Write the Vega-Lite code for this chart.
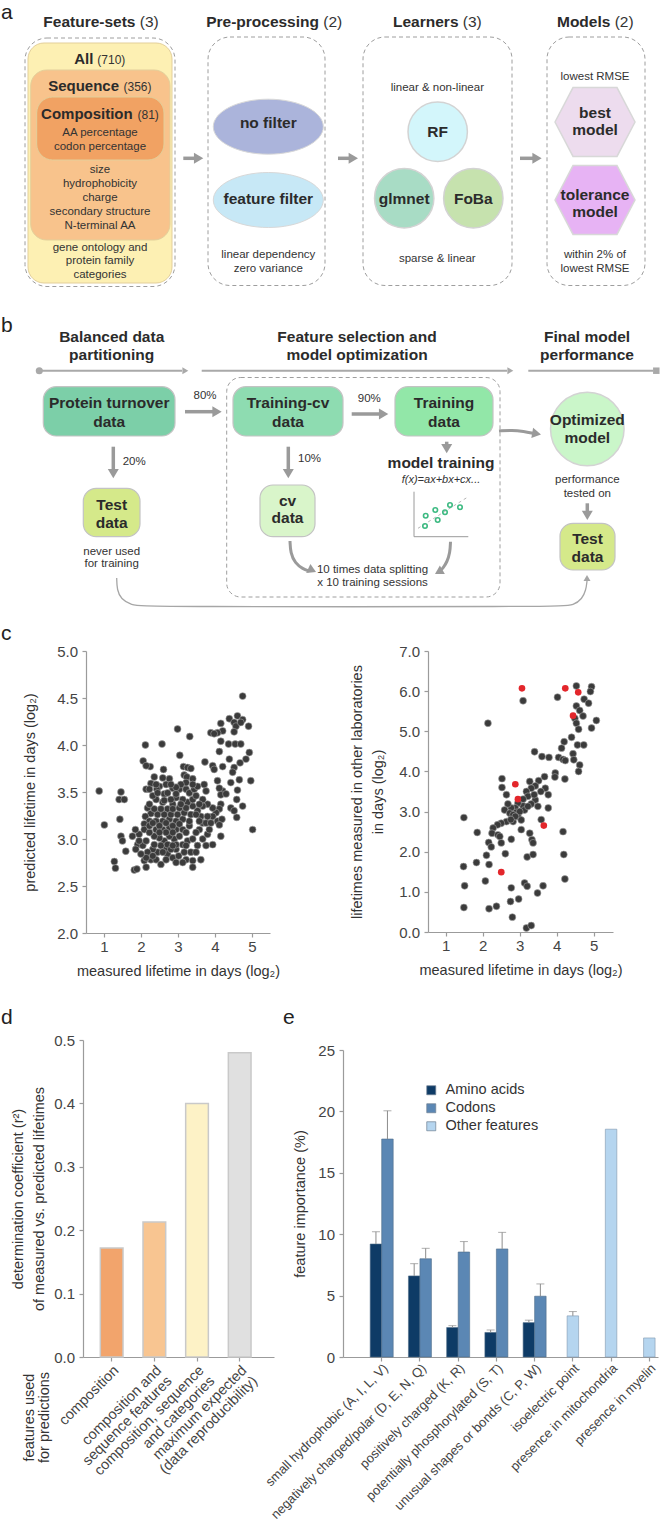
{
"$schema":"https://vega.github.io/schema/vega-lite/v6.json",
"padding":0,
"background":"#ffffff",
"spacing":0,
"resolve":{"scale":{"color":"independent","fill":"independent"},"legend":{"color":"independent"}},
"config":{
 "font":"Liberation Sans",
 "view":{"stroke":null},
 "axis":{"domainColor":"#9b9b9b","tickColor":"#9b9b9b","domainWidth":1.2,"tickWidth":1.2,"tickSize":4,"labelColor":"#444444","titleColor":"#333333","labelFont":"Liberation Sans","titleFont":"Liberation Sans","labelFontSize":15,"titleFontSize":14.5,"titleFontWeight":"normal","grid":false},
 "legend":{"labelFont":"Liberation Sans"},
 "title":{"font":"Liberation Sans"},
 "text":{"font":"Liberation Sans"}
},
"vconcat":[
{
 "width":660,"height":644,
 "encoding":{
  "x":{"field":"x","type":"quantitative","scale":{"domain":[0,660],"nice":false,"zero":false},"axis":null},
  "y":{"field":"y","type":"quantitative","scale":{"domain":[0,644],"reverse":true,"nice":false,"zero":false},"axis":null}
 },
 "resolve":{"scale":{"fill":"independent"}},
 "layer":[
  {"data":{"values":[{"x":25,"x2":175,"y":38,"y2":286.5},{"x":208,"x2":325,"y":37,"y2":285.5},{"x":363,"x2":512,"y":37,"y2":285.5},{"x":547,"x2":645,"y":37,"y2":285.5}]},
   "mark":{"type":"rect","fill":"#ffffff","fillOpacity":0,"stroke":"#9e9e9e","strokeWidth":1,"strokeDash":[4,3],"cornerRadius":22},
   "encoding":{"x2":{"field":"x2"},"y2":{"field":"y2"}}},
  {"data":{"values":[{"x":226.7,"x2":500,"y":377.5,"y2":597}]},
   "mark":{"type":"rect","fill":"#ffffff","fillOpacity":0,"stroke":"#9e9e9e","strokeWidth":1,"strokeDash":[4,3],"cornerRadius":14},
   "encoding":{"x2":{"field":"x2"},"y2":{"field":"y2"}}},
  {"data":{"values":[{"name":"all","x":28,"x2":172,"y":43,"y2":283},{"name":"sequence","x":30.7,"x2":170,"y":70,"y2":240},{"name":"composition","x":36.7,"x2":164,"y":97,"y2":160}]},
   "mark":{"type":"rect","cornerRadius":16,"stroke":"#e3cf9a","strokeWidth":1},
   "encoding":{"x2":{"field":"x2"},"y2":{"field":"y2"},"fill":{"field":"name","type":"nominal","scale":{"domain":["all","sequence","composition"],"range":["#fdf0b3","#f8c38c","#f1a263"]},"legend":null}}},
  {"data":{"values":[{"name":"turnover","x":43.3,"x2":175,"y":386.7,"y2":436},{"name":"training-cv","x":233,"x2":343,"y":386.7,"y2":436},{"name":"training","x":395,"x2":493,"y":386.7,"y2":436},{"name":"test-left","x":83.3,"x2":140,"y":488.3,"y2":536.7},{"name":"cv","x":260,"x2":315,"y":485,"y2":536.7},{"name":"test-right","x":560,"x2":615,"y":523.3,"y2":570}]},
   "mark":{"type":"rect","cornerRadius":13,"stroke":"#c3c3c3","strokeWidth":1.2},
   "encoding":{"x2":{"field":"x2"},"y2":{"field":"y2"},"fill":{"field":"name","type":"nominal","scale":{"domain":["turnover","training-cv","training","test-left","cv","test-right"],"range":["#7ccfa8","#8edcb1","#92e7a8","#d5e98a","#d9f5ca","#d5e98a"]},"legend":null}}},
  {"data":{"values":[{"name":"no filter","x":268.3,"y":126.7},{"name":"feature filter","x":268.3,"y":200}]},
   "mark":{"type":"point","shape":"M-1,0A1,0.5,0,1,0,1,0A1,0.5,0,1,0,-1,0Z","size":12100,"filled":true,"opacity":1,"stroke":"#d8d8d8","strokeWidth":1},
   "encoding":{"fill":{"field":"name","type":"nominal","scale":{"domain":["no filter","feature filter"],"range":["#abb4db","#c7e8f6"]},"legend":null}}},
  {"data":{"values":[{"name":"RF","x":437.7,"y":131.7},{"name":"glmnet","x":404.2,"y":198.3},{"name":"FoBa","x":473.3,"y":198.3}]},
   "mark":{"type":"point","shape":"circle","size":3526,"filled":true,"opacity":1,"stroke":"#d3d3d3","strokeWidth":1.5},
   "encoding":{"fill":{"field":"name","type":"nominal","scale":{"domain":["RF","glmnet","FoBa"],"range":["#d3f6fb","#a8dcc5","#c6e2ae"]},"legend":null}}},
  {"data":{"values":[{"name":"optimized model","x":587.3,"y":429}]},
   "mark":{"type":"point","shape":"circle","size":5411,"filled":true,"fill":"#caf6c9","opacity":1,"stroke":"#d3d3d3","strokeWidth":1.5}},
  {"data":{"values":[{"name":"best model","x":595,"y":122},{"name":"tolerance model","x":595,"y":200}]},
   "mark":{"type":"point","shape":"M-1,0L-0.55,-0.86L0.55,-0.86L1,0L0.55,0.86L-0.55,0.86Z","size":6400,"filled":true,"opacity":1,"stroke":"#d8d8d8","strokeWidth":1.5},
   "encoding":{"fill":{"field":"name","type":"nominal","scale":{"domain":["best model","tolerance model"],"range":["#eddcee","#e7b3f4"]},"legend":null}}},
  {"data":{"values":[{"x":39.3,"x2":182,"y":370.7,"y2":370.7},{"x":201.7,"x2":507,"y":370.7,"y2":370.7},{"x":528.3,"x2":653,"y":370.7,"y2":370.7}]},
   "mark":{"type":"rule","color":"#a9a9a9","strokeWidth":2},
   "encoding":{"x2":{"field":"x2"},"y2":{"field":"y2"}}},
  {"data":{"values":[{"x":39.3,"y":370.7}]},
   "mark":{"type":"point","shape":"circle","size":50,"filled":true,"fill":"#a9a9a9","opacity":1}},
  {"data":{"values":[{"x":656.3,"y":370.7}]},
   "mark":{"type":"point","shape":"square","size":42,"filled":true,"fill":"#a9a9a9","opacity":1}},
  {"data":{"values":[{"x":183.3,"x2":195.3,"y":158.3,"y2":158.3},{"x":338,"x2":350,"y":158.3,"y2":158.3},{"x":520,"x2":533.7,"y":158.3,"y2":158.3},{"x":185,"x2":213.7,"y":411.7,"y2":411.7},{"x":351.7,"x2":380.3,"y":414,"y2":414},{"x":113.3,"x2":113.3,"y":446.7,"y2":470.3},{"x":288.3,"x2":288.3,"y":446.7,"y2":470.3},{"x":446.7,"x2":446.7,"y":441.7,"y2":446},{"x":587.3,"x2":587.3,"y":503.3,"y2":512}]},
   "mark":{"type":"rule","color":"#9a9a9a","strokeWidth":3.5},
   "encoding":{"x2":{"field":"x2"},"y2":{"field":"y2"}}},
  {"data":{"values":[
    {"id":"training to model","i":0,"x":499,"y":431},{"id":"training to model","i":1,"x":512,"y":430},{"id":"training to model","i":2,"x":524,"y":431.5},{"id":"training to model","i":3,"x":533,"y":433.3},
    {"id":"cv loop","i":0,"x":290,"y":541},{"id":"cv loop","i":1,"x":290.5,"y":553},{"id":"cv loop","i":2,"x":295,"y":563},{"id":"cv loop","i":3,"x":303,"y":569},{"id":"cv loop","i":4,"x":309,"y":571},
    {"id":"fit loop","i":0,"x":450.5,"y":541.7},{"id":"fit loop","i":1,"x":450,"y":553},{"id":"fit loop","i":2,"x":447,"y":562},{"id":"fit loop","i":3,"x":443,"y":568},{"id":"fit loop","i":4,"x":441,"y":570}]},
   "mark":{"type":"line","color":"#9a9a9a","strokeWidth":3,"interpolate":"basis"},
   "encoding":{"detail":{"field":"id"},"order":{"field":"i","type":"quantitative"}}},
  {"data":{"values":[{"i":0,"x":116.7,"y":578},{"i":1,"x":117,"y":590},{"i":2,"x":121,"y":599},{"i":3,"x":131,"y":605},{"i":4,"x":145,"y":606.8},{"i":5,"x":560,"y":606.8},{"i":6,"x":574,"y":605},{"i":7,"x":582,"y":599},{"i":8,"x":586,"y":590},{"i":9,"x":587,"y":581}]},
   "mark":{"type":"line","color":"#a6a6a6","strokeWidth":1.3,"interpolate":"basis"},
   "encoding":{"order":{"field":"i","type":"quantitative"}}},
  {"data":{"values":[{"x":203.3,"y":158.3},{"x":358,"y":158.3},{"x":541.7,"y":158.3},{"x":221.7,"y":411.7},{"x":388.3,"y":414}]},
   "mark":{"type":"point","shape":"M0,0L-1.7,-1L-1.7,1Z","size":121,"filled":true,"fill":"#9a9a9a","opacity":1,"angle":0}},
  {"data":{"values":[{"x":113.3,"y":478.3},{"x":288.3,"y":478.3},{"x":446.7,"y":453.3},{"x":587.3,"y":520}]},
   "mark":{"type":"point","shape":"M0,0L-1.7,-1L-1.7,1Z","size":121,"filled":true,"fill":"#9a9a9a","opacity":1,"angle":90}},
  {"data":{"values":[{"x":188.3,"y":370.7},{"x":513.3,"y":370.7}]},
   "mark":{"type":"point","shape":"M0,0L-1.7,-1L-1.7,1Z","size":49,"filled":true,"fill":"#a9a9a9","opacity":1,"angle":0}},
  {"data":{"values":[{"x":541,"y":434.5}]},
   "mark":{"type":"point","shape":"M0,0L-1.7,-1L-1.7,1Z","size":110,"filled":true,"fill":"#9a9a9a","opacity":1,"angle":10}},
  {"data":{"values":[{"x":316,"y":572}]},
   "mark":{"type":"point","shape":"M0,0L-1.7,-1L-1.7,1Z","size":100,"filled":true,"fill":"#9a9a9a","opacity":1,"angle":25}},
  {"data":{"values":[{"x":435,"y":574}]},
   "mark":{"type":"point","shape":"M0,0L-1.7,-1L-1.7,1Z","size":100,"filled":true,"fill":"#9a9a9a","opacity":1,"angle":150}},
  {"data":{"values":[{"x":587,"y":575}]},
   "mark":{"type":"point","shape":"M0,0L-1.7,-1L-1.7,1Z","size":49,"filled":true,"fill":"#a6a6a6","opacity":1,"angle":-90}},
  {"data":{"values":[{"x":414,"x2":414,"y":491.7,"y2":536.7},{"x":414,"x2":468.3,"y":536.7,"y2":536.7}]},
   "mark":{"type":"rule","color":"#9a9a9a","strokeWidth":1},
   "encoding":{"x2":{"field":"x2"},"y2":{"field":"y2"}}},
  {"data":{"values":[{"x":418,"x2":468.3,"y":528.3,"y2":496.7}]},
   "mark":{"type":"rule","color":"#b5b5b5","strokeWidth":1,"strokeDash":[3,3]},
   "encoding":{"x2":{"field":"x2"},"y2":{"field":"y2"}}},
  {"data":{"values":[{"x":425,"y":526},{"x":437.7,"y":520},{"x":425.7,"y":515.7},{"x":435.3,"y":510},{"x":445,"y":512.3},{"x":450,"y":505},{"x":460,"y":507.3}]},
   "mark":{"type":"point","shape":"circle","size":20,"filled":false,"stroke":"#3dba82","strokeWidth":1.6,"opacity":1}},
  {"data":{"values":[{"t":"a","x":1,"y":18.5},{"t":"b","x":1,"y":332},{"t":"c","x":1,"y":639.5}]},
   "mark":{"type":"text","align":"left","baseline":"alphabetic","fontSize":21,"color":"#222222"},
   "encoding":{"text":{"field":"t"}}},
  {"data":{"values":[{"t":"Feature-sets","x":135.5,"y":26.7},{"t":"Pre-processing","x":319,"y":26.7},{"t":"Learners","x":458.5,"y":26.7},{"t":"Models","x":610.4,"y":26.7}]},
   "mark":{"type":"text","align":"right","baseline":"alphabetic","fontSize":15.5,"fontWeight":"bold","color":"#2b2b2b"},
   "encoding":{"text":{"field":"t"}}},
  {"data":{"values":[{"t":"(3)","x":139.8,"y":26.7},{"t":"(2)","x":323.3,"y":26.7},{"t":"(3)","x":462.8,"y":26.7},{"t":"(2)","x":614.7,"y":26.7}]},
   "mark":{"type":"text","align":"left","baseline":"alphabetic","fontSize":15.5,"color":"#333333"},
   "encoding":{"text":{"field":"t"}}},
  {"data":{"values":[{"t":"All","x":93.3,"y":64},{"t":"Sequence","x":119,"y":90.7},{"t":"Composition","x":132.7,"y":119}]},
   "mark":{"type":"text","align":"right","baseline":"alphabetic","fontSize":15,"fontWeight":"bold","color":"#2b2b2b"},
   "encoding":{"text":{"field":"t"}}},
  {"data":{"values":[{"t":"(710)","x":97.3,"y":64},{"t":"(356)","x":123.5,"y":90.7},{"t":"(81)","x":137.5,"y":119}]},
   "mark":{"type":"text","align":"left","baseline":"alphabetic","fontSize":12,"color":"#333333"},
   "encoding":{"text":{"field":"t"}}},
  {"data":{"values":[
    {"t":"AA percentage","x":100,"y":136},{"t":"codon percentage","x":100,"y":150},{"t":"size","x":100,"y":173.3},{"t":"hydrophobicity","x":100,"y":187.3},{"t":"charge","x":100,"y":201.3},{"t":"secondary structure","x":100,"y":215.3},{"t":"N-terminal AA","x":100,"y":229.3},{"t":"gene ontology and","x":100,"y":250.7},{"t":"protein family","x":100,"y":264.3},{"t":"categories","x":100,"y":278.3},
    {"t":"linear dependency","x":268.3,"y":258.3},{"t":"zero variance","x":268.3,"y":272.3},
    {"t":"linear & non-linear","x":437.3,"y":90.7},{"t":"sparse & linear","x":437.3,"y":261.7},
    {"t":"lowest RMSE","x":595,"y":80},{"t":"within 2% of","x":595,"y":258.3},{"t":"lowest RMSE","x":595,"y":272.3},
    {"t":"80%","x":205,"y":399},{"t":"90%","x":369.3,"y":401.7},
    {"t":"never used","x":111.7,"y":555},{"t":"for training","x":111.7,"y":566.7},
    {"t":"performance","x":587.3,"y":483.3},{"t":"tested on","x":587.3,"y":497.3},
    {"t":"10 times data splitting","x":372.5,"y":573.3},{"t":"x 10 training sessions","x":372.5,"y":586}]},
   "mark":{"type":"text","align":"center","baseline":"alphabetic","fontSize":11.5,"color":"#333333"},
   "encoding":{"text":{"field":"t"}}},
  {"data":{"values":[{"t":"20%","x":122.7,"y":465},{"t":"10%","x":298,"y":461.7}]},
   "mark":{"type":"text","align":"left","baseline":"alphabetic","fontSize":11.5,"color":"#333333"},
   "encoding":{"text":{"field":"t"}}},
  {"data":{"values":[
    {"t":"no filter","x":268.3,"y":128.3},{"t":"feature filter","x":268.3,"y":204},
    {"t":"RF","x":437.7,"y":136.7},{"t":"glmnet","x":404.2,"y":204},{"t":"FoBa","x":473.3,"y":204},
    {"t":"best","x":595,"y":118.3},{"t":"model","x":595,"y":135},{"t":"tolerance","x":595,"y":200},{"t":"model","x":595,"y":216.7},
    {"t":"Balanced data","x":111.7,"y":341.7},{"t":"partitioning","x":111.7,"y":360},
    {"t":"Feature selection and","x":357,"y":341.7},{"t":"model optimization","x":357,"y":360},
    {"t":"Final model","x":587,"y":341.7},{"t":"performance","x":587,"y":360},
    {"t":"Protein turnover","x":109.2,"y":408.3},{"t":"data","x":109.2,"y":426.7},
    {"t":"Training-cv","x":288,"y":408.3},{"t":"data","x":288,"y":426.7},
    {"t":"Training","x":444,"y":408.3},{"t":"data","x":444,"y":426.7},
    {"t":"Test","x":111.7,"y":510},{"t":"data","x":111.7,"y":528.3},
    {"t":"cv","x":287.5,"y":505.7},{"t":"data","x":287.5,"y":523.3},
    {"t":"Optimized","x":587.3,"y":425},{"t":"model","x":587.3,"y":443.3},
    {"t":"Test","x":587.5,"y":544},{"t":"data","x":587.5,"y":562.3},
    {"t":"model training","x":441,"y":468.3}]},
   "mark":{"type":"text","align":"center","baseline":"alphabetic","fontSize":15.5,"fontWeight":"bold","color":"#2b2b2b"},
   "encoding":{"text":{"field":"t"}}},
  {"data":{"values":[{"t":"f(x)=ax+bx+cx...","x":441,"y":483.3}]},
   "mark":{"type":"text","align":"center","baseline":"alphabetic","fontSize":11,"fontStyle":"italic","color":"#333333"},
   "encoding":{"text":{"field":"t"}}}
 ]
},
{
 "spacing":0,"bounds":"flush",
 "hconcat":[
  {"width":86,"height":355.3,"data":{"values":[]},"mark":{"type":"point"},"encoding":{}},
  {"width":184,"height":282,
   "data":{"values":[
{"measured":4.75,"predicted":4.52},{"measured":4.39,"predicted":4.28},{"measured":4.61,"predicted":4.31},{"measured":4.75,"predicted":4.27},{"measured":4.52,"predicted":4.24},{"measured":4.16,"predicted":4.23},{"measured":4.21,"predicted":4.15},{"measured":4.07,"predicted":4.13},{"measured":3.89,"predicted":4.13},{"measured":3.98,"predicted":4.12},{"measured":4.57,"predicted":4.20},{"measured":4.70,"predicted":4.24},{"measured":4.91,"predicted":4.20},{"measured":4.52,"predicted":4.14},{"measured":2.99,"predicted":4.17},{"measured":3.32,"predicted":4.09},{"measured":4.16,"predicted":4.04},{"measured":4.37,"predicted":4.01},{"measured":4.55,"predicted":4.01},{"measured":4.70,"predicted":4.01},
{"measured":4.12,"predicted":3.93},{"measured":4.93,"predicted":3.92},{"measured":4.84,"predicted":3.85},{"measured":4.68,"predicted":3.81},{"measured":4.52,"predicted":3.76},{"measured":4.39,"predicted":3.85},{"measured":4.21,"predicted":3.77},{"measured":3.94,"predicted":3.78},{"measured":3.98,"predicted":3.74},{"measured":3.73,"predicted":3.82},{"measured":2.12,"predicted":4.00},{"measured":2.57,"predicted":4.01},{"measured":3.05,"predicted":3.89},{"measured":2.06,"predicted":3.83},{"measured":2.25,"predicted":3.77},{"measured":2.61,"predicted":3.74},{"measured":3.15,"predicted":3.77},{"measured":3.26,"predicted":3.76},{"measured":3.35,"predicted":3.75},{"measured":3.17,"predicted":3.68},
{"measured":3.24,"predicted":3.66},{"measured":3.40,"predicted":3.64},{"measured":2.36,"predicted":3.66},{"measured":2.77,"predicted":3.64},{"measured":2.68,"predicted":3.58},{"measured":2.50,"predicted":3.56},{"measured":2.27,"predicted":3.59},{"measured":2.14,"predicted":3.53},{"measured":2.43,"predicted":3.53},{"measured":2.63,"predicted":3.48},{"measured":2.86,"predicted":3.54},{"measured":3.04,"predicted":3.53},{"measured":3.22,"predicted":3.53},{"measured":3.31,"predicted":3.49},{"measured":3.44,"predicted":3.53},{"measured":3.53,"predicted":3.56},{"measured":3.71,"predicted":3.58},{"measured":3.76,"predicted":3.51},{"measured":4.07,"predicted":3.62},{"measured":4.43,"predicted":3.60},
{"measured":4.66,"predicted":3.63},{"measured":4.97,"predicted":3.62},{"measured":4.48,"predicted":3.71},{"measured":4.61,"predicted":3.52},{"measured":4.21,"predicted":3.51},{"measured":4.12,"predicted":3.54},{"measured":4.16,"predicted":3.47},{"measured":4.30,"predicted":3.48},{"measured":4.59,"predicted":3.42},{"measured":4.75,"predicted":3.35},{"measured":4.43,"predicted":3.33},{"measured":4.52,"predicted":3.30},{"measured":4.59,"predicted":3.23},{"measured":4.16,"predicted":3.37},{"measured":4.12,"predicted":3.32},{"measured":4.03,"predicted":3.28},{"measured":3.94,"predicted":3.24},{"measured":4.07,"predicted":3.19},{"measured":4.19,"predicted":3.21},{"measured":4.12,"predicted":3.15},
{"measured":5.02,"predicted":3.10},{"measured":4.16,"predicted":3.03},{"measured":3.94,"predicted":2.94},{"measured":3.76,"predicted":2.93},{"measured":3.67,"predicted":3.00},{"measured":3.80,"predicted":3.05},{"measured":3.58,"predicted":3.10},{"measured":3.67,"predicted":3.17},{"measured":3.62,"predicted":3.24},{"measured":3.53,"predicted":3.30},{"measured":3.40,"predicted":3.35},{"measured":3.26,"predicted":3.39},{"measured":3.13,"predicted":3.42},{"measured":2.95,"predicted":3.44},{"measured":2.86,"predicted":3.37},{"measured":2.72,"predicted":3.32},{"measured":2.59,"predicted":3.39},{"measured":2.41,"predicted":3.42},{"measured":2.32,"predicted":3.46},{"measured":2.18,"predicted":3.33},
{"measured":2.27,"predicted":3.27},{"measured":2.12,"predicted":3.24},{"measured":2.23,"predicted":3.19},{"measured":2.09,"predicted":3.16},{"measured":2.09,"predicted":3.10},{"measured":1.95,"predicted":3.05},{"measured":1.85,"predicted":3.10},{"measured":1.77,"predicted":3.03},{"measured":1.91,"predicted":2.94},{"measured":2.05,"predicted":2.93},{"measured":1.86,"predicted":2.89},{"measured":1.59,"predicted":2.87},{"measured":1.46,"predicted":3.03},{"measured":1.50,"predicted":2.98},{"measured":1.43,"predicted":3.21},{"measured":1.41,"predicted":3.42},{"measured":1.46,"predicted":3.50},{"measured":1.55,"predicted":3.42},{"measured":0.87,"predicted":3.51},{"measured":1.01,"predicted":3.15},
{"measured":1.28,"predicted":2.76},{"measured":1.31,"predicted":2.69},{"measured":1.82,"predicted":2.67},{"measured":1.89,"predicted":2.68},{"measured":2.09,"predicted":2.77},{"measured":2.14,"predicted":2.70},{"measured":2.27,"predicted":2.78},{"measured":2.41,"predicted":2.78},{"measured":2.54,"predicted":2.73},{"measured":2.45,"predicted":2.86},{"measured":2.32,"predicted":2.89},{"measured":2.18,"predicted":2.86},{"measured":2.68,"predicted":2.89},{"measured":2.72,"predicted":2.84},{"measured":2.86,"predicted":2.80},{"measured":2.95,"predicted":2.75},{"measured":3.02,"predicted":2.82},{"measured":3.17,"predicted":2.86},{"measured":3.22,"predicted":2.78},{"measured":3.40,"predicted":2.77},
{"measured":3.40,"predicted":2.70},{"measured":3.62,"predicted":2.78},{"measured":2.95,"predicted":2.89},{"measured":3.13,"predicted":2.94},{"measured":3.26,"predicted":2.98},{"measured":3.40,"predicted":3.00},{"measured":2.90,"predicted":3.00},{"measured":2.77,"predicted":3.03},{"measured":2.63,"predicted":2.98},{"measured":2.50,"predicted":3.01},{"measured":2.36,"predicted":3.03},{"measured":2.23,"predicted":3.07},{"measured":2.41,"predicted":3.10},{"measured":2.59,"predicted":3.10},{"measured":2.77,"predicted":3.12},{"measured":2.95,"predicted":3.10},{"measured":3.13,"predicted":3.10},{"measured":3.31,"predicted":3.14},{"measured":3.49,"predicted":3.07},{"measured":3.31,"predicted":3.19},
{"measured":3.13,"predicted":3.21},{"measured":2.95,"predicted":3.19},{"measured":2.77,"predicted":3.21},{"measured":2.59,"predicted":3.19},{"measured":2.41,"predicted":3.19},{"measured":2.23,"predicted":3.14},{"measured":2.45,"predicted":3.26},{"measured":2.63,"predicted":3.26},{"measured":2.81,"predicted":3.26},{"measured":2.99,"predicted":3.26},{"measured":3.17,"predicted":3.28},{"measured":3.35,"predicted":3.26},{"measured":3.49,"predicted":3.26},{"measured":3.58,"predicted":3.19},{"measured":2.86,"predicted":3.32},{"measured":3.04,"predicted":3.33},{"measured":3.22,"predicted":3.33},{"measured":3.40,"predicted":3.42},{"measured":3.08,"predicted":3.37},{"measured":2.54,"predicted":3.32},
{"measured":2.36,"predicted":3.32},{"measured":2.23,"predicted":3.37},{"measured":2.63,"predicted":3.41},{"measured":2.81,"predicted":3.42},{"measured":2.72,"predicted":3.49},{"measured":2.95,"predicted":3.48},{"measured":2.45,"predicted":3.49},{"measured":3.76,"predicted":3.17},{"measured":3.89,"predicted":3.17},{"measured":3.85,"predicted":3.10},{"measured":3.35,"predicted":2.86},{"measured":3.53,"predicted":2.93},{"measured":2.54,"predicted":2.93},{"measured":2.36,"predicted":2.94},{"measured":2.14,"predicted":2.98},{"measured":1.95,"predicted":2.98},{"measured":2.72,"predicted":2.94},{"measured":2.95,"predicted":2.94},{"measured":3.49,"predicted":2.86},{"measured":3.13,"predicted":2.75},
{"measured":2.14,"predicted":2.80},{"measured":2.00,"predicted":2.84},{"measured":2.68,"predicted":2.78},{"measured":3.94,"predicted":3.33},{"measured":3.80,"predicted":3.37},{"measured":3.67,"predicted":3.35},{"measured":3.67,"predicted":3.42},{"measured":3.49,"predicted":3.46},{"measured":3.58,"predicted":3.37},{"measured":3.80,"predicted":3.24},{"measured":3.22,"predicted":3.60},{"measured":3.08,"predicted":3.58},{"measured":2.95,"predicted":3.55},{"measured":2.81,"predicted":3.58},{"measured":2.59,"predicted":3.65},{"measured":3.40,"predicted":3.58},{"measured":2.14,"predicted":3.78},{"measured":2.41,"predicted":3.58},{"measured":2.23,"predicted":3.53},{"measured":2.32,"predicted":3.17},
{"measured":2.50,"predicted":3.14},{"measured":2.68,"predicted":3.17},{"measured":2.86,"predicted":3.14},{"measured":3.04,"predicted":3.16},{"measured":3.22,"predicted":3.07},{"measured":3.04,"predicted":3.03},{"measured":2.86,"predicted":3.07},{"measured":2.68,"predicted":3.07},{"measured":2.50,"predicted":3.07},{"measured":3.22,"predicted":2.93},{"measured":2.81,"predicted":2.89},{"measured":2.59,"predicted":2.86},{"measured":2.32,"predicted":2.82},{"measured":2.86,"predicted":2.93}
   ]},
   "mark":{"type":"point","filled":true,"size":48,"color":"#3b3b3b","stroke":"#a3a3a3","strokeWidth":0.6,"opacity":1},
   "encoding":{
    "x":{"field":"measured","type":"quantitative","scale":{"domain":[0.514,5.49],"nice":false,"zero":false},"axis":{"values":[1,2,3,4,5],"labelPadding":2.5,"title":"measured lifetime in days (log₂)","titlePadding":10}},
    "y":{"field":"predicted","type":"quantitative","scale":{"domain":[2,5],"nice":false,"zero":false},"axis":{"values":[2,2.5,3,3.5,4,4.5,5],"format":".1f","labelPadding":4.5,"title":"predicted lifetime in days (log₂)","titlePadding":19}}
   }
  },
  {"width":158,"height":281,"data":{"values":[]},"mark":{"type":"point"},"encoding":{}},
  {"width":185,"height":281,
   "data":{"values":[
{"measured":4.53,"other_labs":6.13,"group":"other"},{"measured":4.94,"other_labs":6.11,"group":"other"},{"measured":4.91,"other_labs":5.99,"group":"other"},{"measured":4.02,"other_labs":5.85,"group":"other"},{"measured":3.09,"other_labs":5.76,"group":"other"},{"measured":4.74,"other_labs":5.80,"group":"other"},{"measured":4.53,"other_labs":5.63,"group":"other"},{"measured":4.86,"other_labs":5.70,"group":"other"},{"measured":4.62,"other_labs":5.52,"group":"other"},{"measured":4.71,"other_labs":5.38,"group":"other"},
{"measured":4.49,"other_labs":5.32,"group":"other"},{"measured":4.53,"other_labs":5.20,"group":"other"},{"measured":5.07,"other_labs":5.27,"group":"other"},{"measured":4.94,"other_labs":5.08,"group":"other"},{"measured":4.59,"other_labs":5.05,"group":"other"},{"measured":2.14,"other_labs":5.20,"group":"other"},{"measured":4.40,"other_labs":4.85,"group":"other"},{"measured":4.20,"other_labs":4.74,"group":"other"},{"measured":4.13,"other_labs":4.58,"group":"other"},{"measured":4.56,"other_labs":4.66,"group":"other"},
{"measured":4.73,"other_labs":4.66,"group":"other"},{"measured":3.40,"other_labs":4.49,"group":"other"},{"measured":3.60,"other_labs":4.37,"group":"other"},{"measured":3.79,"other_labs":4.35,"group":"other"},{"measured":4.05,"other_labs":4.35,"group":"other"},{"measured":4.17,"other_labs":4.30,"group":"other"},{"measured":4.23,"other_labs":4.27,"group":"other"},{"measured":4.44,"other_labs":4.44,"group":"other"},{"measured":4.46,"other_labs":4.29,"group":"other"},{"measured":4.62,"other_labs":4.16,"group":"other"},
{"measured":4.59,"other_labs":4.00,"group":"other"},{"measured":3.96,"other_labs":3.96,"group":"other"},{"measured":3.95,"other_labs":3.86,"group":"other"},{"measured":4.22,"other_labs":3.81,"group":"other"},{"measured":3.67,"other_labs":3.87,"group":"other"},{"measured":3.51,"other_labs":3.77,"group":"other"},{"measured":3.27,"other_labs":3.75,"group":"other"},{"measured":2.52,"other_labs":3.82,"group":"other"},{"measured":2.52,"other_labs":3.60,"group":"other"},{"measured":3.42,"other_labs":3.64,"group":"other"},
{"measured":3.69,"other_labs":3.58,"group":"other"},{"measured":3.57,"other_labs":3.50,"group":"other"},{"measured":3.77,"other_labs":3.42,"group":"other"},{"measured":3.31,"other_labs":3.58,"group":"other"},{"measured":3.18,"other_labs":3.50,"group":"other"},{"measured":3.22,"other_labs":3.38,"group":"other"},{"measured":3.09,"other_labs":3.31,"group":"other"},{"measured":3.42,"other_labs":3.29,"group":"other"},{"measured":3.31,"other_labs":3.19,"group":"other"},{"measured":3.09,"other_labs":3.14,"group":"other"},
{"measured":2.95,"other_labs":3.21,"group":"other"},{"measured":2.88,"other_labs":3.09,"group":"other"},{"measured":2.77,"other_labs":3.09,"group":"other"},{"measured":2.64,"other_labs":3.42,"group":"other"},{"measured":2.68,"other_labs":3.19,"group":"other"},{"measured":2.59,"other_labs":3.04,"group":"other"},{"measured":2.73,"other_labs":2.96,"group":"other"},{"measured":2.91,"other_labs":2.98,"group":"other"},{"measured":2.95,"other_labs":2.88,"group":"other"},{"measured":3.13,"other_labs":3.04,"group":"other"},
{"measured":3.22,"other_labs":3.13,"group":"other"},{"measured":3.49,"other_labs":3.13,"group":"other"},{"measured":3.77,"other_labs":3.09,"group":"other"},{"measured":3.58,"other_labs":2.80,"group":"other"},{"measured":2.82,"other_labs":2.75,"group":"other"},{"measured":2.64,"other_labs":2.75,"group":"other"},{"measured":2.50,"other_labs":2.71,"group":"other"},{"measured":2.40,"other_labs":2.67,"group":"other"},{"measured":2.28,"other_labs":2.59,"group":"other"},{"measured":2.25,"other_labs":2.46,"group":"other"},
{"measured":2.41,"other_labs":2.42,"group":"other"},{"measured":2.46,"other_labs":2.38,"group":"other"},{"measured":2.50,"other_labs":2.22,"group":"other"},{"measured":2.16,"other_labs":2.23,"group":"other"},{"measured":2.23,"other_labs":2.12,"group":"other"},{"measured":1.85,"other_labs":2.48,"group":"other"},{"measured":3.04,"other_labs":2.55,"group":"other"},{"measured":3.27,"other_labs":2.46,"group":"other"},{"measured":3.33,"other_labs":2.30,"group":"other"},{"measured":3.36,"other_labs":2.22,"group":"other"},
{"measured":2.77,"other_labs":2.31,"group":"other"},{"measured":4.17,"other_labs":2.50,"group":"other"},{"measured":1.49,"other_labs":2.85,"group":"other"},{"measured":2.10,"other_labs":1.91,"group":"other"},{"measured":2.61,"other_labs":1.95,"group":"other"},{"measured":3.20,"other_labs":1.87,"group":"other"},{"measured":3.36,"other_labs":1.93,"group":"other"},{"measured":4.19,"other_labs":1.93,"group":"other"},{"measured":1.83,"other_labs":1.73,"group":"other"},{"measured":2.17,"other_labs":1.68,"group":"other"},
{"measured":1.48,"other_labs":1.63,"group":"other"},{"measured":2.07,"other_labs":1.27,"group":"other"},{"measured":1.51,"other_labs":1.15,"group":"other"},{"measured":2.77,"other_labs":1.10,"group":"other"},{"measured":3.13,"other_labs":1.22,"group":"other"},{"measured":3.20,"other_labs":1.14,"group":"other"},{"measured":3.63,"other_labs":1.15,"group":"other"},{"measured":3.48,"other_labs":0.97,"group":"other"},{"measured":4.22,"other_labs":1.32,"group":"other"},{"measured":2.97,"other_labs":0.82,"group":"other"},
{"measured":2.75,"other_labs":0.76,"group":"other"},{"measured":2.37,"other_labs":0.64,"group":"other"},{"measured":2.17,"other_labs":0.58,"group":"other"},{"measured":1.49,"other_labs":0.61,"group":"other"},{"measured":2.80,"other_labs":0.37,"group":"other"},{"measured":3.18,"other_labs":0.10,"group":"other"},{"measured":3.31,"other_labs":0.16,"group":"other"},{"measured":2.82,"other_labs":2.92,"group":"other"},{"measured":3.00,"other_labs":3.00,"group":"other"},{"measured":3.04,"other_labs":2.79,"group":"other"},
{"measured":3.39,"other_labs":3.42,"group":"other"},{"measured":2.88,"other_labs":2.88,"group":"other"},{"measured":2.76,"other_labs":2.80,"group":"other"},
{"measured":3.06,"other_labs":6.07,"group":"highlighted"},{"measured":4.23,"other_labs":6.07,"group":"highlighted"},{"measured":4.58,"other_labs":5.97,"group":"highlighted"},{"measured":4.44,"other_labs":5.39,"group":"highlighted"},{"measured":2.88,"other_labs":3.68,"group":"highlighted"},{"measured":2.95,"other_labs":3.31,"group":"highlighted"},{"measured":3.65,"other_labs":2.65,"group":"highlighted"},{"measured":2.50,"other_labs":1.49,"group":"highlighted"}
   ]},
   "encoding":{
    "x":{"field":"measured","type":"quantitative","scale":{"domain":[0.52,5.52],"nice":false,"zero":false},"axis":{"values":[1,2,3,4,5],"labelPadding":2.5,"title":"measured lifetime in days (log₂)","titlePadding":10}},
    "y":{"field":"other_labs","type":"quantitative","scale":{"domain":[0,7],"nice":false,"zero":false},"axis":{"values":[0,1,2,3,4,5,6,7],"format":".1f","labelPadding":4.5,"title":["lifetimes measured in other laboratories","in days (log₂)"],"titlePadding":13,"titleLineHeight":21}}
   },
   "layer":[
    {"transform":[{"filter":"datum.group === 'other'"}],"mark":{"type":"point","filled":true,"size":48,"color":"#3b3b3b","stroke":"#a3a3a3","strokeWidth":0.6,"opacity":1}},
    {"transform":[{"filter":"datum.group === 'highlighted'"}],"mark":{"type":"point","filled":true,"size":44,"color":"#e3262b","opacity":1}}
   ]
  }
 ]
},
{
 "spacing":0,"bounds":"flush",
 "resolve":{"scale":{"color":"independent"},"legend":{"color":"independent"}},
 "hconcat":[
  {"width":83,"height":317,"title":{"text":"d","anchor":"start","frame":"group","orient":"top","offset":0,"baseline":"alphabetic","fontSize":21,"fontWeight":"normal","color":"#222222","dx":1,"dy":5},"data":{"values":[]},"mark":{"type":"point"},"encoding":{}},
  {"width":191,"height":317,
   "data":{"values":[{"feature_set":"composition","r2":0.172},{"feature_set":"composition and sequence features","r2":0.213},{"feature_set":"composition, sequence and categories","r2":0.400},{"feature_set":"maximum expected (data reproducibility)","r2":0.480}]},
   "mark":{"type":"bar","stroke":"#c9c9c9","strokeWidth":1.5},
   "encoding":{
    "x":{"field":"feature_set","type":"nominal","sort":null,
      "scale":{"domain":["composition","composition and sequence features","composition, sequence and categories","maximum expected (data reproducibility)"],"paddingInner":0.468,"paddingOuter":0.472,"align":0.43},
      "axis":{"labelAngle":-45,"labelAlign":"right","labelBaseline":"top","labelFontSize":14.5,"labelLimit":400,"labelOverlap":false,"labelPadding":2,"labelLineHeight":15,
        "labelExpr":"datum.value == 'composition and sequence features' ? ['composition and', 'sequence features'] : datum.value == 'composition, sequence and categories' ? ['composition, sequence', 'and categories'] : datum.value == 'maximum expected (data reproducibility)' ? ['maximum expected', '(data reproducibility)'] : datum.label",
        "title":["features used","for predictions"],"titleAngle":-90,"titleX":-47,"titleY":60,"titleAlign":"center","titleBaseline":"bottom","titleLineHeight":15.5}},
    "y":{"field":"r2","type":"quantitative","scale":{"domain":[0,0.5],"nice":false},"axis":{"values":[0,0.1,0.2,0.3,0.4,0.5],"format":".1f","labelPadding":4.5,"title":["determination coefficient (r²)","of measured vs. predicted lifetimes"],"titlePadding":7.5,"titleLineHeight":21}},
    "color":{"field":"feature_set","type":"nominal","scale":{"domain":["composition","composition and sequence features","composition, sequence and categories","maximum expected (data reproducibility)"],"range":["#f2a46c","#f8c591","#fdf2c6","#e0e0e0"]},"legend":null}
   }
  },
  {"width":69,"height":317,"title":{"text":"e","anchor":"start","frame":"group","orient":"top","offset":0,"baseline":"alphabetic","fontSize":21,"fontWeight":"normal","color":"#222222","dx":9,"dy":5},"data":{"values":[]},"mark":{"type":"point"},"encoding":{}},
  {"width":315,"height":317,
   "data":{"values":[
    {"feature":"small hydrophobic (A, I, L, V)","series":"Amino acids","value":9.2,"upper":10.2},
    {"feature":"small hydrophobic (A, I, L, V)","series":"Codons","value":17.75,"upper":20.05},
    {"feature":"negatively charged/polar (D, E, N, Q)","series":"Amino acids","value":6.6,"upper":7.6},
    {"feature":"negatively charged/polar (D, E, N, Q)","series":"Codons","value":8.0,"upper":8.85},
    {"feature":"positively charged (K, R)","series":"Amino acids","value":2.4,"upper":2.55},
    {"feature":"positively charged (K, R)","series":"Codons","value":8.55,"upper":9.4},
    {"feature":"potentially phosphorylated (S, T)","series":"Amino acids","value":2.0,"upper":2.2},
    {"feature":"potentially phosphorylated (S, T)","series":"Codons","value":8.8,"upper":10.15},
    {"feature":"unusual shapes or bonds (C, P, W)","series":"Amino acids","value":2.8,"upper":3.0},
    {"feature":"unusual shapes or bonds (C, P, W)","series":"Codons","value":4.95,"upper":5.95},
    {"feature":"isoelectric point","series":"Other features","value":3.35,"upper":3.7},
    {"feature":"presence in mitochondria","series":"Other features","value":18.55,"upper":null},
    {"feature":"presence in myelin","series":"Other features","value":1.55,"upper":null}
   ]},
   "encoding":{
    "x":{"field":"feature","type":"nominal","sort":null,
      "scale":{"domain":["small hydrophobic (A, I, L, V)","negatively charged/polar (D, E, N, Q)","positively charged (K, R)","potentially phosphorylated (S, T)","unusual shapes or bonds (C, P, W)","isoelectric point","presence in mitochondria","presence in myelin"],"paddingInner":0.7,"paddingOuter":0.4695,"align":0.918},
      "axis":{"labelAngle":-45,"labelAlign":"right","labelBaseline":"top","labelFontSize":13,"labelLimit":400,"labelOverlap":false,"labelPadding":0.5,"title":null}}
   },
   "layer":[
    {"transform":[{"filter":"datum.series === 'Amino acids'"}],
     "mark":{"type":"bar","width":11.5,"xOffset":-5.75,"stroke":"#4f6b88","strokeWidth":0.6},
     "encoding":{"y":{"field":"value","type":"quantitative","title":"feature importance (%)","scale":{"domain":[0,25],"range":[317,10],"nice":false},"axis":{"values":[0,5,10,15,20,25],"labelPadding":4.5,"titlePadding":10.6}},
       "color":{"field":"series","type":"nominal","scale":{"domain":["Amino acids","Codons","Other features"],"range":["#0e3b66","#5b87b4","#b5d5ef"]},"legend":{"title":null,"orient":"none","legendX":81,"legendY":43,"symbolType":"square","symbolSize":81,"symbolStrokeColor":"#6d7f92","symbolStrokeWidth":0.7,"labelFontSize":14.5,"labelColor":"#333333","labelOffset":7,"rowPadding":3,"padding":0}}}},
    {"transform":[{"filter":"datum.series === 'Codons'"}],
     "mark":{"type":"bar","width":11.5,"xOffset":5.75,"stroke":"#4f6b88","strokeWidth":0.6},
     "encoding":{"y":{"field":"value","type":"quantitative","title":"feature importance (%)","scale":{"domain":[0,25],"range":[317,10],"nice":false},"axis":{"values":[0,5,10,15,20,25],"labelPadding":4.5,"titlePadding":10.6}},
       "color":{"field":"series","type":"nominal","scale":{"domain":["Amino acids","Codons","Other features"],"range":["#0e3b66","#5b87b4","#b5d5ef"]},"legend":{"title":null,"orient":"none","legendX":81,"legendY":43,"symbolType":"square","symbolSize":81,"symbolStrokeColor":"#6d7f92","symbolStrokeWidth":0.7,"labelFontSize":14.5,"labelColor":"#333333","labelOffset":7,"rowPadding":3,"padding":0}}}},
    {"transform":[{"filter":"datum.series === 'Other features'"}],
     "mark":{"type":"bar","width":11.5,"xOffset":0,"stroke":"#7f97ae","strokeWidth":0.6},
     "encoding":{"y":{"field":"value","type":"quantitative","title":"feature importance (%)","scale":{"domain":[0,25],"range":[317,10],"nice":false},"axis":{"values":[0,5,10,15,20,25],"labelPadding":4.5,"titlePadding":10.6}},
       "color":{"field":"series","type":"nominal","scale":{"domain":["Amino acids","Codons","Other features"],"range":["#0e3b66","#5b87b4","#b5d5ef"]},"legend":{"title":null,"orient":"none","legendX":81,"legendY":43,"symbolType":"square","symbolSize":81,"symbolStrokeColor":"#6d7f92","symbolStrokeWidth":0.7,"labelFontSize":14.5,"labelColor":"#333333","labelOffset":7,"rowPadding":3,"padding":0}}}},
    {"transform":[{"filter":"datum.series === 'Amino acids' && isValid(datum.upper)"}],
     "mark":{"type":"rule","xOffset":-5.75,"color":"#8c8c8c","strokeWidth":1},
     "encoding":{"y":{"field":"value","type":"quantitative","title":"feature importance (%)","scale":{"domain":[0,25],"range":[317,10],"nice":false},"axis":{"values":[0,5,10,15,20,25],"labelPadding":4.5,"titlePadding":10.6}},"y2":{"field":"upper"}}},
    {"transform":[{"filter":"datum.series === 'Codons' && isValid(datum.upper)"}],
     "mark":{"type":"rule","xOffset":5.75,"color":"#8c8c8c","strokeWidth":1},
     "encoding":{"y":{"field":"value","type":"quantitative","title":"feature importance (%)","scale":{"domain":[0,25],"range":[317,10],"nice":false},"axis":{"values":[0,5,10,15,20,25],"labelPadding":4.5,"titlePadding":10.6}},"y2":{"field":"upper"}}},
    {"transform":[{"filter":"datum.series === 'Other features' && isValid(datum.upper)"}],
     "mark":{"type":"rule","xOffset":0,"color":"#8c8c8c","strokeWidth":1},
     "encoding":{"y":{"field":"value","type":"quantitative","title":"feature importance (%)","scale":{"domain":[0,25],"range":[317,10],"nice":false},"axis":{"values":[0,5,10,15,20,25],"labelPadding":4.5,"titlePadding":10.6}},"y2":{"field":"upper"}}},
    {"transform":[{"filter":"datum.series === 'Amino acids' && isValid(datum.upper)"}],
     "mark":{"type":"tick","orient":"horizontal","size":8,"thickness":1,"color":"#8c8c8c","xOffset":-5.75},
     "encoding":{"y":{"field":"upper","type":"quantitative","title":"feature importance (%)","scale":{"domain":[0,25],"range":[317,10],"nice":false},"axis":{"values":[0,5,10,15,20,25],"labelPadding":4.5,"titlePadding":10.6}}}},
    {"transform":[{"filter":"datum.series === 'Codons' && isValid(datum.upper)"}],
     "mark":{"type":"tick","orient":"horizontal","size":8,"thickness":1,"color":"#8c8c8c","xOffset":5.75},
     "encoding":{"y":{"field":"upper","type":"quantitative","title":"feature importance (%)","scale":{"domain":[0,25],"range":[317,10],"nice":false},"axis":{"values":[0,5,10,15,20,25],"labelPadding":4.5,"titlePadding":10.6}}}},
    {"transform":[{"filter":"datum.series === 'Other features' && isValid(datum.upper)"}],
     "mark":{"type":"tick","orient":"horizontal","size":8,"thickness":1,"color":"#8c8c8c","xOffset":0},
     "encoding":{"y":{"field":"upper","type":"quantitative","title":"feature importance (%)","scale":{"domain":[0,25],"range":[317,10],"nice":false},"axis":{"values":[0,5,10,15,20,25],"labelPadding":4.5,"titlePadding":10.6}}}}
   ]
  }
 ]
}
]
}
